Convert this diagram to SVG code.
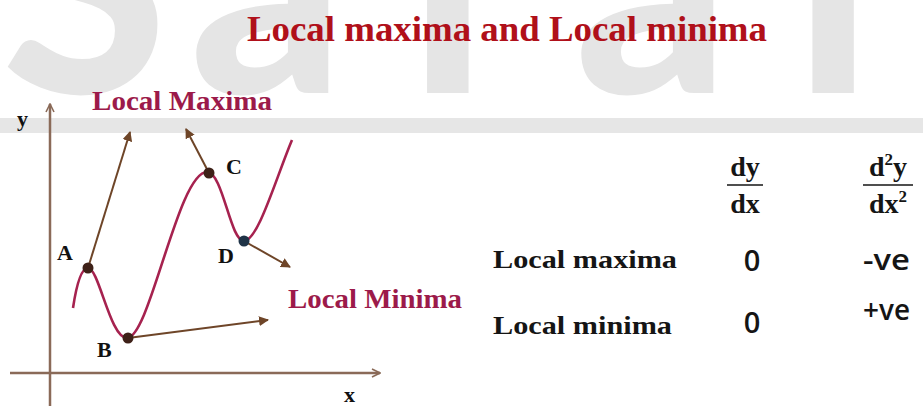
<svg xmlns="http://www.w3.org/2000/svg" width="923" height="409" viewBox="0 0 923 409">
  <style>
    .wm { font-family: Lato, "Open Sans", sans-serif; font-weight: 900; font-size: 300px; fill: #e5e5e5; }
    .title { font-family: "Liberation Serif", serif; font-weight: bold; font-size: 36px; fill: #b0101a; }
    .lbl { font-family: "Liberation Serif", serif; font-weight: bold; font-size: 27px; fill: #9c1a4a; }
    .pt { font-family: "Liberation Serif", serif; font-weight: bold; font-size: 22px; fill: #111; }
    .row { font-family: "Liberation Serif", serif; font-weight: bold; font-size: 25px; fill: #151515; }
    .frac { font-family: "Liberation Serif", serif; font-weight: bold; font-size: 28px; fill: #151515; }
    .val { font-family: "Open Sans", "Liberation Sans", sans-serif; font-weight: 600; font-size: 29px; fill: #151515; }
    .axis { stroke: #8a6a58; stroke-width: 2.5; fill: none; }
    .tan { stroke: #6e4528; stroke-width: 2; fill: none; marker-end: url(#tip); }
    .curve { stroke: #a6224f; stroke-width: 2.6; fill: none; }
    .dot { fill: #3e2118; }
  </style>
  <defs>
    <marker id="tip" viewBox="0 0 10 10" refX="9" refY="5" markerWidth="5" markerHeight="5" orient="auto" markerUnits="strokeWidth">
      <path d="M0,0 L10,5 L0,10 z" fill="#6e4528"/>
    </marker>
    <marker id="chev" viewBox="0 0 10 10" refX="9" refY="5" markerWidth="4" markerHeight="4" orient="auto" markerUnits="strokeWidth">
      <path d="M1,1 L9,5 L1,9" fill="none" stroke="#8a6a58" stroke-width="1.6"/>
    </marker>
  </defs>

  <rect width="923" height="409" fill="#ffffff"/>

  <!-- background mark and band -->
  <g id="watermark">
    <text class="wm" x="2 190 410 575 795" y="93">Saral</text>
    <rect x="0" y="118" width="923" height="15" fill="#e6e6e6"/>
  </g>

  <g id="title">
    <text class="title" x="247" y="41" textLength="520" lengthAdjust="spacingAndGlyphs">Local maxima  and Local minima</text>
  </g>

  <!-- axes -->
  <g id="axes">
    <line class="axis" x1="50" y1="406" x2="50" y2="104" marker-end="url(#chev)"/>
    <line class="axis" x1="10" y1="373" x2="380" y2="373" marker-end="url(#chev)"/>
    <text class="pt" x="17" y="126">y</text>
    <text class="pt" x="344" y="402">x</text>
  </g>

  <!-- the graph curve -->
  <g id="curve">
    <path class="curve" d="M73,308 C76,288 81,268 88,268 C99,268 110,338 127,338 C150,338 178,172 207,172 C223,172 230,241 244,241 C258,241 276,178 292,140"/>
  </g>

  <!-- tangent directions -->
  <g id="connectors">
    <line class="tan" x1="88" y1="268" x2="130" y2="132"/>
    <line class="tan" x1="209" y1="173" x2="186" y2="129"/>
    <line class="tan" x1="244" y1="241" x2="290" y2="267"/>
    <line class="tan" x1="128" y1="338" x2="268" y2="320"/>
  </g>

  <g id="point-a">
    <circle class="dot" cx="88" cy="268" r="5.5"/>
    <text class="pt" x="57" y="260">A</text>
  </g>
  <g id="point-b">
    <circle class="dot" cx="128" cy="338" r="5.5"/>
    <text class="pt" x="97" y="357">B</text>
  </g>
  <g id="point-c">
    <circle class="dot" cx="209" cy="173" r="5.5"/>
    <text class="pt" x="226" y="174">C</text>
  </g>
  <g id="point-d">
    <circle cx="244" cy="241" r="5.5" fill="#1f3347"/>
    <text class="pt" x="218" y="263">D</text>
  </g>

  <g id="label-maxima">
    <text class="lbl" x="92" y="110" textLength="180" lengthAdjust="spacingAndGlyphs">Local Maxima</text>
  </g>
  <g id="label-minima">
    <text class="lbl" x="288" y="308" textLength="174" lengthAdjust="spacingAndGlyphs">Local Minima</text>
  </g>

  <!-- derivative table -->
  <g id="table">
    <text class="frac" x="745" y="176" text-anchor="middle">dy</text>
    <line x1="727" y1="185" x2="763" y2="185" stroke="#151515" stroke-width="1.6"/>
    <text class="frac" x="745" y="213" text-anchor="middle">dx</text>

    <text class="frac" x="888" y="176" text-anchor="middle">d<tspan font-size="17" dy="-11">2</tspan><tspan dy="11">y</tspan></text>
    <line x1="863" y1="185" x2="913" y2="185" stroke="#151515" stroke-width="1.6"/>
    <text class="frac" x="888" y="213" text-anchor="middle">dx<tspan font-size="17" dy="-11">2</tspan></text>

    <text class="row" x="493" y="268" textLength="184" lengthAdjust="spacingAndGlyphs">Local maxima</text>
    <text class="row" x="493" y="334" textLength="179" lengthAdjust="spacingAndGlyphs">Local minima</text>

    <text class="val" x="752" y="271" text-anchor="middle">0</text>
    <text class="val" x="752" y="333" text-anchor="middle">0</text>
    <text class="val" x="863" y="270" textLength="47" lengthAdjust="spacingAndGlyphs">-ve</text>
    <text class="val" x="863" y="320" textLength="47" lengthAdjust="spacingAndGlyphs">+ve</text>
  </g>
</svg>
